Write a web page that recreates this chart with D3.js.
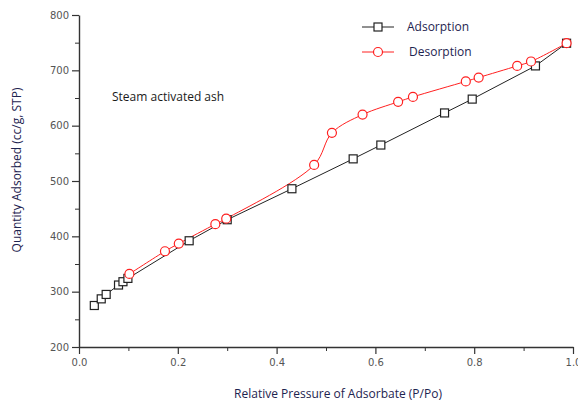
<!DOCTYPE html>
<html>
<head>
<meta charset="utf-8">
<script src="https://cdn.jsdelivr.net/npm/d3@7"></script>
<style>
  body { margin: 0; background: #fff; }
  svg { display: block; font-family: "Open Sans", "Noto Sans", sans-serif; }
</style>
</head>
<body>
<script>
// adsorption branch (black squares)
const adsP = [0.031, 0.045, 0.055, 0.080, 0.089, 0.099, 0.223, 0.300, 0.431, 0.555, 0.611, 0.740, 0.796, 0.924, 0.987];
const adsQ = [275, 287, 295, 312, 318, 324, 392, 430, 486, 540, 565, 623, 648, 708, 749];
// desorption branch (red circles)
const desP = [0.102, 0.174, 0.202, 0.276, 0.298, 0.476, 0.512, 0.574, 0.646, 0.676, 0.783, 0.809, 0.887, 0.915, 0.987];
const desQ = [332, 373, 387, 422, 432, 529, 587, 620, 643, 652, 680, 687, 708, 716, 749];

const seriesNames = ["Adsorption", "Desorption"];
const xTicks = [0, 0.2, 0.4, 0.6, 0.8, 1.0];
const yTicks = [200, 300, 400, 500, 600, 700, 800];

var width = 578, height = 402;
var margin = {left: 79, right: 5, top: 15, bottom: 55};

var svg = d3.select("body").append("svg")
    .attr("width", width)
    .attr("height", height);

var x = d3.scaleLinear().domain([0, 1]).range([margin.left, 573]);
var y = d3.scaleLinear().domain([200, 800]).range([347, margin.top]);

var tickColor = "#555";
var titleColor = "#1e2450";

// minor ticks first
svg.append("g")
    .attr("transform", "translate(0," + y(200) + ")")
    .call(d3.axisBottom(x).tickValues(d3.range(0.1, 1, 0.2)).tickSize(4).tickFormat(""))
    .call(g => g.select(".domain").remove());
svg.append("g")
    .attr("transform", "translate(" + x(0) + ",0)")
    .call(d3.axisLeft(y).tickValues(d3.range(250, 800, 100)).tickSize(4).tickFormat(""))
    .call(g => g.select(".domain").remove());

// major axes
var xAxis = svg.append("g")
    .attr("transform", "translate(0," + y(200) + ")")
    .call(d3.axisBottom(x).tickValues(xTicks).tickSize(7).tickSizeOuter(0).tickFormat(d3.format(".1f")));
var yAxis = svg.append("g")
    .attr("transform", "translate(" + x(0) + ",0)")
    .call(d3.axisLeft(y).tickValues(yTicks).tickSize(7).tickSizeOuter(0));

[xAxis, yAxis].forEach(function(g) {
  g.selectAll("text").attr("fill", tickColor).attr("font-size", "10px")
    .attr("font-family", "'DejaVu Sans', sans-serif");
  g.select(".domain").attr("stroke", "#333").attr("stroke-width", 1.4);
  g.selectAll(".tick line").attr("stroke", "#333").attr("stroke-width", 1.2);
});
xAxis.selectAll("text").attr("dy", "0.9em");
svg.selectAll(".tick line").attr("stroke", "#333");

// axis titles
svg.append("text")
    .attr("x", 338).attr("y", 398)
    .attr("text-anchor", "middle")
    .attr("font-size", "12px")
    .attr("fill", titleColor)
    .text("Relative Pressure of Adsorbate (P/Po)");

svg.append("text")
    .attr("transform", "translate(21," + 170 + ") rotate(-90)")
    .attr("text-anchor", "middle")
    .attr("font-size", "12px")
    .attr("fill", titleColor)
    .text("Quantity Adsorbed (cc/g, STP)");

svg.append("text")
    .attr("x", 112).attr("y", 101)
    .attr("font-size", "12px")
    .attr("fill", "#1a1a1a")
    .text("Steam activated ash");

var ads = adsP.map((p, i) => ({p: p, q: adsQ[i]}));
var des = desP.map((p, i) => ({p: p, q: desQ[i]}));

var linearLine = d3.line().x(d => x(d.p)).y(d => y(d.q));
var smoothLine = d3.line().x(d => x(d.p)).y(d => y(d.q)).curve(d3.curveCatmullRom.alpha(0.5));

svg.append("path")
    .datum(ads)
    .attr("d", linearLine)
    .attr("fill", "none")
    .attr("stroke", "#222")
    .attr("stroke-width", 1);

svg.append("path")
    .datum(des)
    .attr("d", smoothLine)
    .attr("fill", "none")
    .attr("stroke", "#ff2020")
    .attr("stroke-width", 1);

var sq = 8;
svg.append("g").selectAll("rect")
    .data(ads)
    .enter()
    .append("rect")
      .attr("x", d => x(d.p) - sq / 2)
      .attr("y", d => y(d.q) - sq / 2)
      .attr("width", sq)
      .attr("height", sq)
      .attr("fill", "#fff")
      .attr("stroke", "#222")
      .attr("stroke-width", 1.2);

svg.append("g").selectAll("circle")
    .data(des)
    .enter()
    .append("circle")
      .attr("cx", d => x(d.p))
      .attr("cy", d => y(d.q))
      .attr("r", 4.5)
      .attr("fill", "#fff")
      .attr("stroke", "#ff2020")
      .attr("stroke-width", 1.2);

// legend
var legend = svg.append("g");
var legendY = [27, 52];
var legendColors = ["#222", "#ff2020"];
seriesNames.forEach(function(name, i) {
  legend.append("line")
      .attr("x1", 362).attr("x2", 394)
      .attr("y1", legendY[i]).attr("y2", legendY[i])
      .attr("stroke", legendColors[i]).attr("stroke-width", 1);
  if (i === 0) {
    legend.append("rect")
        .attr("x", 378 - sq / 2).attr("y", legendY[i] - sq / 2)
        .attr("width", sq).attr("height", sq)
        .attr("fill", "#fff").attr("stroke", "#222").attr("stroke-width", 1.2);
  } else {
    legend.append("circle")
        .attr("cx", 378).attr("cy", legendY[i]).attr("r", 4.5)
        .attr("fill", "#fff").attr("stroke", "#ff2020").attr("stroke-width", 1.2);
  }
  legend.append("text")
      .attr("x", i === 0 ? 407 : 409).attr("y", legendY[i])
      .attr("dy", "0.35em")
      .attr("font-size", "12px")
      .attr("fill", "#1e2450")
      .text(name);
});
</script>
</body>
</html>
